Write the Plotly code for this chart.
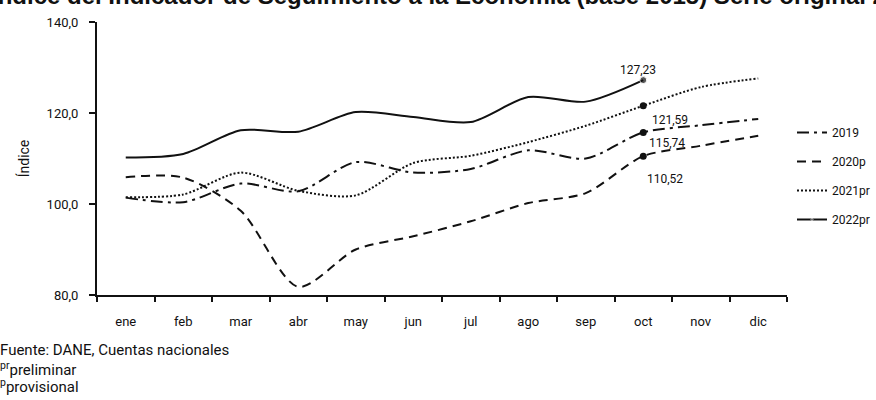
import plotly.graph_objects as go

months = ["ene", "feb", "mar", "abr", "may", "jun", "jul", "ago", "sep", "oct", "nov", "dic"]
v2019 = [101.4, 100.4, 104.5, 102.8, 109.2, 106.9, 107.7, 111.8, 110.0, 115.74, 117.3, 118.7]
v2020p = [105.9, 105.8, 98.5, 81.8, 90.0, 92.9, 96.2, 100.2, 102.4, 110.52, 112.8, 115.0]
v2021pr = [101.5, 102.1, 106.9, 102.9, 101.9, 109.0, 110.6, 113.6, 117.2, 121.59, 125.7, 127.6]
v2022pr = [110.2, 111.0, 116.2, 115.9, 120.2, 119.1, 118.0, 123.5, 122.5, 127.23]
yticks = [80, 100, 120, 140]
ytick_text = ["80,0", "100,0", "120,0", "140,0"]

FONT = "Liberation Sans Narrow, Roboto, Liberation Sans, sans-serif"
INK = "#111111"
W, H = 876, 400
L, R, T, B = 97, 89, 22, 105
PW, PH = W - L - R, H - T - B

def px_x(px):
    return (px - L) / PW

def px_y(py):
    return 1 - (py - T) / PH

fig = go.Figure()

series = [
    ("2019", v2019, "12px,5px,3px,5px"),
    ("2020p", v2020p, "9px,6px"),
    ("2021pr", v2021pr, "2px,2px"),
]
for name, vals, dash in series:
    fig.add_trace(go.Scatter(
        x=months, y=vals, name=name, mode="lines", legendgroup=name,
        line=dict(color=INK, width=2, dash=dash, shape="spline", smoothing=0.8),
    ))
    fig.add_trace(go.Scatter(
        x=[months[9]], y=[vals[9]], mode="markers", showlegend=False, legendgroup=name,
        marker=dict(color=INK, size=7),
    ))

sizes_2022 = [0] * 9 + [7]
fig.add_trace(go.Scatter(
    x=months[:len(v2022pr)], y=v2022pr, name="2022pr", mode="lines+markers", legendgroup="2022pr",
    line=dict(color=INK, width=2, shape="spline", smoothing=0.8),
    marker=dict(color=INK, size=sizes_2022),
))

def fmt(v):
    return f"{v:.2f}".replace(".", ",")

labels = [
    (v2022pr[9], -5, 10),
    (v2021pr[9], 27, -14),
    (v2019[9], 24, -11),
    (v2020p[9], 22, -23),
]
for val, xs, ys in labels:
    fig.add_annotation(x=months[9], y=val, text=fmt(val), showarrow=False,
                       xshift=xs, yshift=ys,
                       font=dict(family=FONT, size=12, color=INK))

fig.add_annotation(
    xref="paper", yref="paper", x=px_x(-11), y=px_y(11),
    xanchor="left", yanchor="bottom",
    text="<b>Índice del Indicador de Seguimiento a la Economía (base 2015) Serie original 2019 - 2022</b>",
    showarrow=False, font=dict(family="Liberation Sans, Arial, sans-serif", size=24, color=INK),
)

foot = [
    ("Fuente: DANE, Cuentas nacionales", 350),
    ("<sup>pr</sup>preliminar", 369),
    ("<sup>p</sup>provisional", 386),
]
for txt, py in foot:
    fig.add_annotation(
        xref="paper", yref="paper", x=px_x(-2), y=px_y(py),
        xanchor="left", yanchor="middle", text=txt, showarrow=False,
        font=dict(family=FONT, size=15, color=INK),
    )

fig.update_layout(
    width=W, height=H,
    margin=dict(l=L, r=R, t=T, b=B, autoexpand=False),
    paper_bgcolor="white", plot_bgcolor="white",
    showlegend=True,
    legend=dict(xref="container", yref="container", x=792 / W, y=1 - 118 / H,
                xanchor="left", yanchor="top",
                font=dict(family=FONT, size=12, color=INK),
                tracegroupgap=10, bgcolor="rgba(0,0,0,0)"),
    font=dict(family=FONT, color=INK),
)
fig.update_xaxes(
    type="category", range=[-0.5, 11.5], tickson="boundaries",
    ticks="outside", ticklen=5, tickwidth=1.5, tickcolor=INK,
    showline=True, linecolor=INK, linewidth=2, showgrid=False, zeroline=False,
    tickfont=dict(family=FONT, size=13, color=INK), ticklabelstandoff=13,
)
fig.update_yaxes(
    range=[80, 140], tickvals=yticks, ticktext=ytick_text,
    ticks="outside", ticklen=6, tickwidth=1.5, tickcolor=INK,
    showline=True, linecolor=INK, linewidth=2, showgrid=False, zeroline=False,
    tickfont=dict(family=FONT, size=13, color=INK), ticklabelstandoff=8,
    title=dict(text="Índice", font=dict(family=FONT, size=14, color=INK), standoff=14),
)

fig.write_html("out.html", config={"displayModeBar": False},
               post_script="document.body.style.margin='0';")
